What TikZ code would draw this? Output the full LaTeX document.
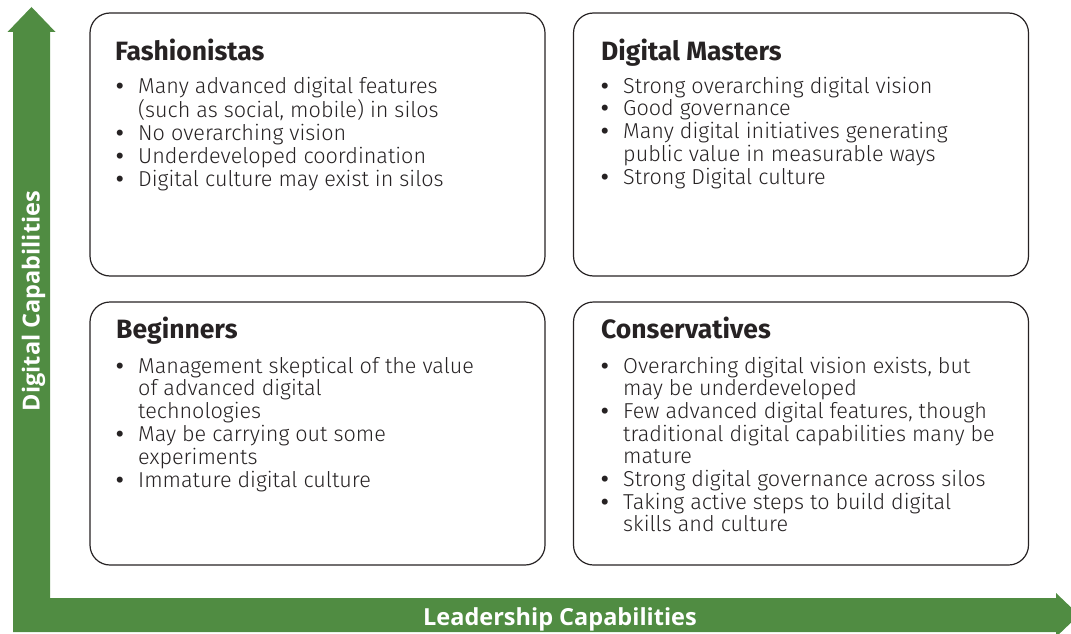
\documentclass[tikz,border=0pt]{standalone}
\usepackage{fontspec}
\setmainfont{Fira Sans}
\newfontfamily\bodyfont{Fira Sans Light}
\newfontfamily\axisfont{Open Sans}

\definecolor{capgreen}{RGB}{80,140,66}
\definecolor{inkgray}{RGB}{38,34,35}

\newcommand{\bul}{{\rmfamily\bfseries\textbullet}}

\tikzset{
  quadbox/.style={draw=inkgray, line width=1.2pt, rounded corners=20pt,
    minimum width=455pt, minimum height=263pt, inner sep=0pt},
  quadtitle/.style={anchor=base west, inner sep=0pt, text=inkgray,
    font=\fontsize{26.5}{30}\selectfont\bfseries},
  quadlist/.style={anchor=base west, inner sep=0pt, text=inkgray,
    font=\bodyfont\fontsize{21.6}{22}\selectfont},
  axislabel/.style={anchor=base, inner sep=0pt, text=white,
    font=\axisfont\fontsize{23.5}{26}\selectfont\bfseries}
}

\begin{document}
\begin{tikzpicture}[x=1pt,y=-1pt]
  \useasboundingbox (0,0) rectangle (1071,634);

  % Axes (one L-shaped double arrow)
  \fill[capgreen] (13,632) -- (13,32) -- (7.5,32) -- (31.5,7) -- (55.5,32)
    -- (50,32) -- (50,598) -- (1056,598) -- (1056,593) -- (1079,615)
    -- (1056,637) -- (1056,632) -- cycle;
  \node[axislabel, rotate=90] (ylab) at (39.5,301) {Digital Capabilities};
  \node[axislabel] (xlab) at (560,625) {Leadership Capabilities};

  % Quadrants
  \node[quadbox] (fash) at (317.5,144.5) {};
  \node[quadbox] (mast) at (801,144.5) {};
  \node[quadbox] (begn) at (317.5,433.5) {};
  \node[quadbox] (cons) at (801,433.5) {};

  % Titles
  \node[quadtitle] (fashT) at (115,60) {Fashionistas};
  \node[quadtitle] (mastT) at (601,60) {Digital Masters};
  \node[quadtitle] (begnT) at (116,338) {Beginners};
  \node[quadtitle] (consT) at (601,338) {Conservatives};

  % Bullet lists
  \node[quadlist] (fashL) at (116,93) {\begin{tabular}[t]{@{}p{22pt}@{}l@{}}
    \bul & Many advanced digital features\\
         & (such as social, mobile) in silos\\
    \bul & No overarching vision\\
    \bul & Underdeveloped coordination\\
    \bul & Digital culture may exist in silos
  \end{tabular}};
  \node[quadlist] (mastL) at (601,93) {\begin{tabular}[t]{@{}p{22pt}@{}l@{}}
    \bul & Strong overarching digital vision\\
    \bul & Good governance\\
    \bul & Many digital initiatives generating\\
         & public value in measurable ways\\
    \bul & Strong Digital culture
  \end{tabular}};
  \node[quadlist] (begnL) at (116,373) {\begin{tabular}[t]{@{}p{22pt}@{}l@{}}
    \bul & Management skeptical of the value\\
         & of advanced digital\\
         & technologies\\
    \bul & May be carrying out some\\
         & experiments\\
    \bul & Immature digital culture
  \end{tabular}};
  \node[quadlist] (consL) at (601,373) {\begin{tabular}[t]{@{}p{22pt}@{}l@{}}
    \bul & Overarching digital vision exists, but\\
         & may be underdeveloped\\
    \bul & Few advanced digital features, though\\
         & traditional digital capabilities many be\\
         & mature\\
    \bul & Strong digital governance across silos\\
    \bul & Taking active steps to build digital\\
         & skills and culture
  \end{tabular}};
\end{tikzpicture}
\end{document}
